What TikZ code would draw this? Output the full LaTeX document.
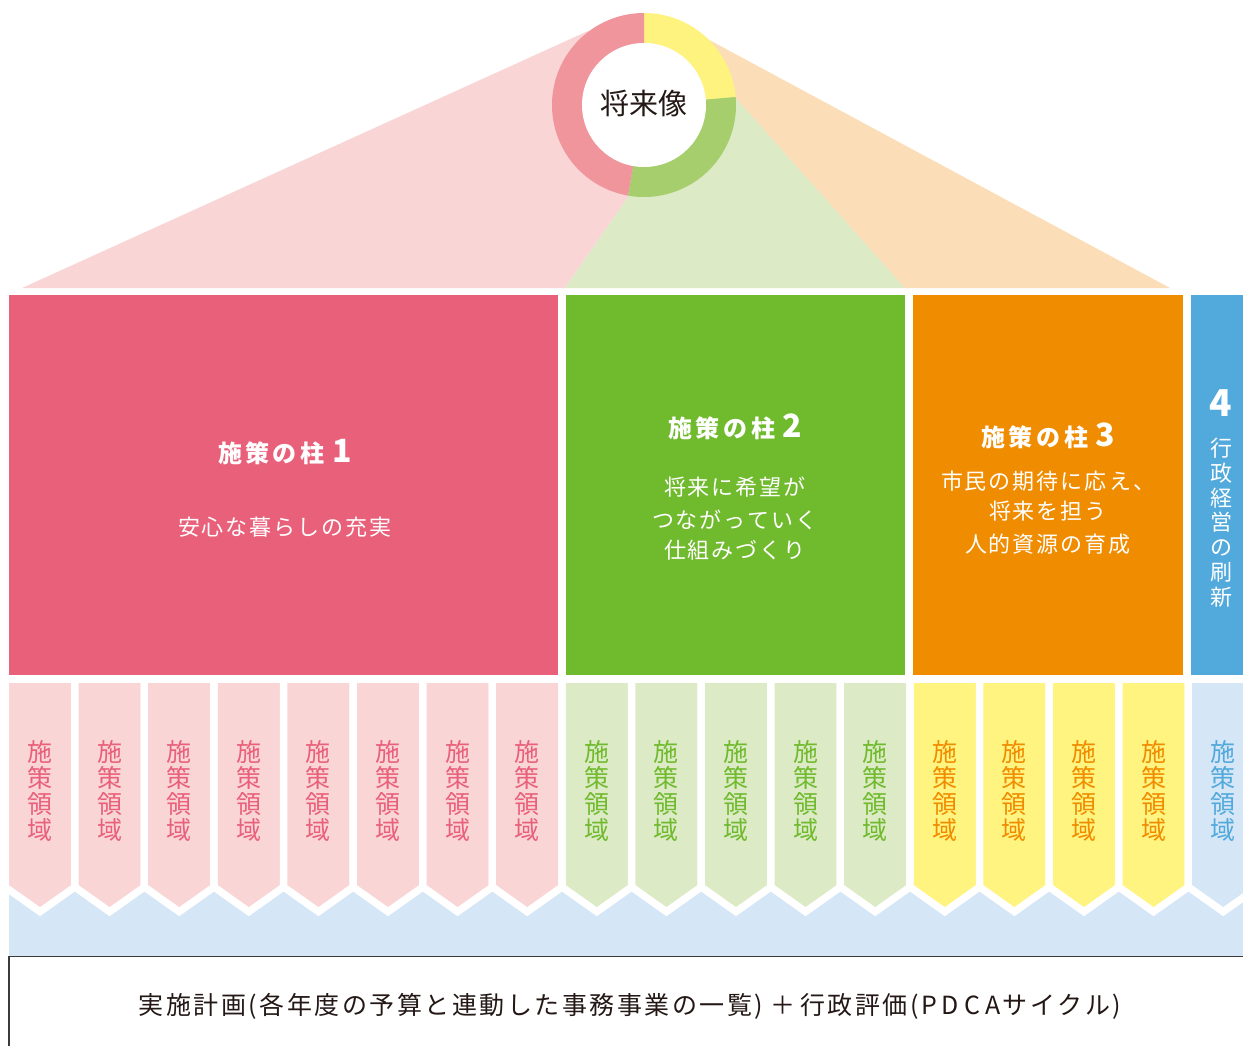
\documentclass[tikz,border=0pt]{standalone}
\usepackage{fontspec}
\setmainfont{Noto Sans CJK JP}
\definecolor{roofPink}{HTML}{F9D5D6}
\definecolor{roofGreen}{HTML}{DCEAC5}
\definecolor{roofOrange}{HTML}{FBDDB7}
\definecolor{ringPink}{HTML}{F0959C}
\definecolor{ringYellow}{HTML}{FFF37F}
\definecolor{ringGreen}{HTML}{A6CE6C}
\definecolor{pilPink}{HTML}{E9607A}
\definecolor{pilGreen}{HTML}{70BA2D}
\definecolor{pilOrange}{HTML}{F08C00}
\definecolor{pilBlue}{HTML}{52A9DC}
\definecolor{colPink}{HTML}{F9D5D6}
\definecolor{colGreen}{HTML}{DCEAC5}
\definecolor{colYellow}{HTML}{FFF47F}
\definecolor{colBlue}{HTML}{D5E6F6}
\definecolor{ink}{HTML}{231815}
\definecolor{boxline}{HTML}{3E3A39}
\ExplSyntaxOn
\NewDocumentCommand \jspc { m m }
  { \tl_map_inline:nn {#2} { ##1 \kern #1 } \kern -#1 }
\ExplSyntaxOff
\newcommand\hdrfont{\bfseries\fontsize{24}{28}\selectfont}
\newcommand\digfont{\bfseries\fontsize{32}{34}\selectfont}
\newcommand\bodyfont{\fontsize{22}{26}\selectfont}
\newcommand\colfont{\fontsize{25}{27}\selectfont}
\newcommand\mkcol[3]{%
  \pgfmathsetmacro\colL{9+69.6*#1}%
  \pgfmathsetmacro\colR{\colL+62}%
  \pgfmathsetmacro\colM{\colL+31}%
  \path[preaction={draw=white,line width=15pt,line join=miter}, fill=#2]
    (\colL,683) -- (\colR,683) -- (\colR,885) -- (\colM,907) -- (\colL,885) -- cycle;
  \foreach \ch [count=\k from 0] in {施,策,領,域}
    \node[anchor=base, font=\colfont, text=#3, inner sep=0] (c#1t\k) at (\colM,{761+26*\k}) {\ch};
}
\begin{document}
\begin{tikzpicture}[x=1pt,y=-1pt]
\useasboundingbox (0,0) rectangle (1243,1046);
\clip (0,0) rectangle (1243,1046);
% bottom band
\fill[colBlue] (9,878) rectangle (1262,956);
% columns
\foreach \i in {0,...,7} {\mkcol{\i}{colPink}{pilPink}}
\foreach \i in {8,...,12} {\mkcol{\i}{colGreen}{pilGreen}}
\foreach \i in {13,...,16} {\mkcol{\i}{colYellow}{pilOrange}}
\mkcol{17}{colBlue}{pilBlue}
% pillars
\fill[pilPink] (9,295) rectangle (558,675);
\fill[pilGreen] (566,295) rectangle (905,675);
\fill[pilOrange] (913,295) rectangle (1183,675);
\fill[pilBlue] (1191,295) rectangle (1262,675);
% roof
\fill[roofPink] (22,288) -- (588,31) -- (644,105) -- (628,197) -- (565,288) -- cycle;
\fill[roofGreen] (565,288) -- (628,197) -- (644,105) -- (735,97) -- (905,288) -- cycle;
\fill[roofOrange] (905,288) -- (735,97) -- (644,105) -- (700,35) -- (1170,288) -- cycle;
% ring
\coordinate (ringc) at (644,105);
\fill[ringYellow] (ringc) -- ++(90:92pt) arc[start angle=90, end angle=5, radius=92pt] -- cycle;
\fill[ringGreen] (ringc) -- ++(5:92pt) arc[start angle=5, end angle=-100, radius=92pt] -- cycle;
\fill[ringPink] (ringc) -- ++(-100:92pt) arc[start angle=-100, end angle=-270, radius=92pt] -- cycle;
\node[circle, fill=white, minimum size=124pt, inner sep=0] (core) at (ringc) {};
\node[anchor=base, inner sep=0, text=ink, font=\fontsize{29}{32}\selectfont] (vision) at (644,114.5) {将来像};
% pillar texts
\node[anchor=base, inner sep=0, text=white] (h1) at (285,462) {\hdrfont\jspc{3.5pt}{施策の柱}\kern8pt{\digfont 1}};
\node[anchor=base, inner sep=0, text=white, font=\bodyfont] (b1) at (285,535) {\jspc{2pt}{安心な暮らしの充実}};
\node[anchor=base, inner sep=0, text=white] (h2) at (735,437) {\hdrfont\jspc{3.5pt}{施策の柱}\kern7pt{\digfont 2}};
\node[anchor=base, inner sep=0, text=white, font=\bodyfont] (b2a) at (735,495.5) {\jspc{2pt}{将来に希望が}};
\node[anchor=base, inner sep=0, text=white, font=\bodyfont] (b2b) at (735,528.5) {\jspc{2pt}{つながっていく}};
\node[anchor=base, inner sep=0, text=white, font=\bodyfont] (b2c) at (735,558.5) {\jspc{2pt}{仕組みづくり}};
\node[anchor=base, inner sep=0, text=white] (h3) at (1048,446) {\hdrfont\jspc{3.5pt}{施策の柱}\kern7pt{\digfont 3}};
\node[anchor=base, inner sep=0, text=white, font=\bodyfont] (b3a) at (1048,489.5) {\jspc{2pt}{市民の期待に応え、}};
\node[anchor=base, inner sep=0, text=white, font=\bodyfont] (b3b) at (1048,519.5) {\jspc{2pt}{将来を担う}};
\node[anchor=base, inner sep=0, text=white, font=\bodyfont] (b3c) at (1048,552.5) {\jspc{2pt}{人的資源の育成}};
\node[anchor=base, inner sep=0, text=white, font=\bfseries\fontsize{37}{40}\selectfont] (h4) at (1221,416) {4};
\foreach \ch [count=\k from 0] in {行,政,経,営,の,刷,新}
  \node[anchor=base, inner sep=0, text=white, font=\bodyfont] (v\k) at (1221,{456.4+24.8*\k}) {\ch};
% bottom box
\draw[boxline, line width=1.3pt] (9,956.5) rectangle (1262,1062);
\node[anchor=base, inner sep=0, text=ink, font=\fontsize{25}{28}\selectfont] (plan) at (630,1014.5)
  {\jspc{2.5pt}{実施計画(各年度の予算と連動した事務事業の一覧){\kern5pt＋\kern2pt}行政評価({P\kern5pt D\kern5pt C\kern5pt A}サイクル)}};
\end{tikzpicture}
\end{document}
